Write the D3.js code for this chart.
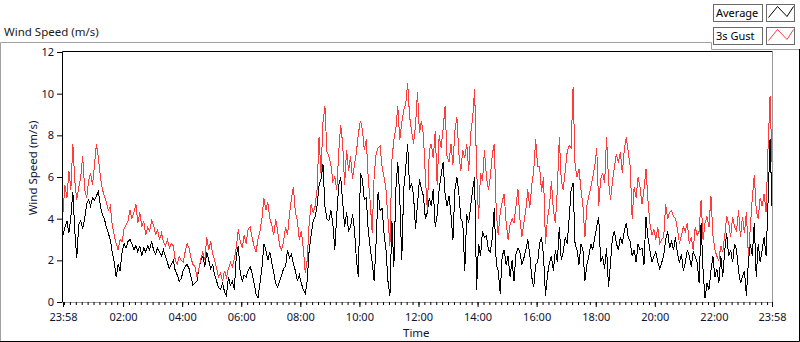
<!DOCTYPE html>
<html>
<head>
<meta charset="utf-8">
<script src="https://cdn.jsdelivr.net/npm/d3@7"></script>
<style>
  body { margin: 0; background: #fff; }
  svg { display: block; font-family: "Noto Sans", sans-serif; }
  .tick text { fill: #111133; }
</style>
</head>
<body>
<svg id="chart" width="800" height="342"></svg>
<script>
// samples every 4 minutes starting at 23:58 of the previous day
var startTime = "2000-01-01 23:58";
var stepMinutes = 4;

var avgSpeed = [
  3.2,3.6,3.9,3.3,4.1,5.3,3.4,2.1,3.7,3.9, 3.5,4.0,4.7,4.9,4.6,5.0,4.9,5.1,5.3,4.6,
  4.2,4.0,3.6,3.3,3.0,2.4,1.9,1.2,1.8,1.5, 2.4,2.8,2.6,2.9,3.0,2.8,2.5,2.7,2.4,2.7,
  2.2,2.6,2.4,2.7,2.5,2.9,2.5,2.3,2.6,2.4, 2.2,2.5,2.2,1.9,1.6,1.8,2.0,1.5,1.3,1.0,
  1.1,1.5,1.7,1.8,1.6,1.2,0.8,0.9,1.0,1.6, 2.0,2.2,1.7,
  2.4,2.0,1.6,1.8,1.3,1.0,0.7,0.6,0.9,0.5, 0.3,1.2,0.8,1.0,0.6,2.2,2.7,1.4,1.0,1.3,
  1.2,1.5,1.7,1.4,0.9,0.4,0.2,0.9,1.6,2.8, 2.5,2.0,2.4,1.9,1.4,0.9,0.7,1.0,1.3,1.6,
  1.7,2.5,2.1,2.3,1.8,1.5,1.0,1.3,0.9,0.6, 0.4,1.0,2.5,3.2,3.9,4.1,4.6,5.6,5.9,6.6,
  4.6,4.0,3.9,4.4,3.8,2.5,4.2,5.6,6.0,4.8, 3.6,4.3,3.4,
  3.6,4.2,3.5,2.0,1.2,6.2,5.9,4.9,5.0,3.4, 2.6,1.9,1.0,2.9,5.3,4.4,4.5,3.3,2.5,1.0,
  0.3,3.9,1.7,5.4,6.7,5.0,2.0,5.4,6.4,7.6, 5.4,5.7,5.1,3.5,4.7,5.9,5.4,5.1,4.0,4.3,
  5.0,4.6,5.4,3.6,4.2,5.4,6.1,6.7,5.2,4.6, 5.1,4.2,3.0,5.4,6.0,5.2,4.0,3.8,1.5,4.2,
  3.8,4.6,5.4,6.0,0.6,2.8,2.2,3.4,3.1,3.2, 2.5,2.4,
  3.1,4.5,1.8,1.5,0.4,2.2,2.5,1.8,2.2,1.2, 2.0,1.0,2.3,2.6,2.4,1.8,2.1,2.5,3.0,2.3,
  1.2,0.7,1.8,1.9,2.8,3.1,2.2,0.3,1.3,1.9, 2.2,1.5,2.5,1.9,3.6,2.0,2.4,3.1,2.8,4.0,
  5.4,5.7,2.8,2.5,1.8,2.8,2.5,1.0,1.8,2.2, 2.8,2.5,3.1,3.6,4.1,1.9,2.2,1.6,2.6,0.7,
  1.9,3.1,3.4,2.8,2.5,3.1,2.8,3.4,3.8,3.1, 2.9,2.2,
  2.5,1.9,2.8,2.5,2.6,1.8,4.1,3.1,2.5,1.9, 2.2,2.4,1.9,1.6,1.9,2.2,3.0,3.4,2.6,2.9,
  2.5,3.1,2.3,1.9,2.3,1.5,1.9,2.5,2.2,1.7, 2.4,2.2,1.9,0.9,3.8,1.5,0.2,0.9,0.6,1.5,
  2.2,1.2,1.6,0.9,2.2,1.2,2.5,3.3,2.2,2.5, 1.9,2.8,2.5,1.5,0.9,1.2,1.5,0.3,1.9,2.8,
  2.2,3.8,1.2,2.8,1.9,2.5,3.1,2.2,4.8,7.8,4.6
];

var gustSpeed = [
  4.3,5.6,5.0,6.3,5.4,7.6,5.8,4.9,5.5,6.0, 7.0,5.4,5.0,5.8,6.2,5.6,6.6,7.6,6.9,6.0,
  5.4,5.1,4.8,4.4,4.6,3.7,3.2,2.8,2.5,3.0, 2.9,3.5,3.7,3.9,4.4,4.0,4.3,4.7,3.8,4.3,
  3.6,3.9,3.2,3.6,3.4,3.9,3.7,3.2,3.5,3.0, 3.3,2.9,2.7,3.0,2.6,2.8,2.7,2.0,1.8,2.2,
  2.0,1.9,2.4,2.8,2.6,2.1,1.8,1.7,1.2,1.6, 2.1,2.4,2.0,
  3.1,2.5,2.9,2.3,2.0,1.6,1.2,1.4,1.0,1.5, 1.2,1.6,1.9,1.7,2.1,2.6,3.5,2.9,2.6,3.2,
  2.8,3.5,3.6,3.1,2.7,2.4,3.0,3.4,4.0,5.0, 4.4,4.8,4.0,3.7,3.2,4.0,3.4,2.7,2.5,2.9,
  3.6,3.2,4.2,5.0,5.5,4.3,3.9,3.0,3.4,2.6, 1.4,2.0,3.8,4.7,4.3,4.6,5.4,7.9,6.2,8.6,
  9.4,7.2,7.0,6.6,5.8,6.0,5.4,7.2,8.5,7.6, 5.6,7.3,6.3,
  7.0,5.9,6.6,7.2,8.1,8.7,8.3,7.3,7.8,5.9, 4.8,3.3,6.1,7.1,7.4,7.5,6.5,6.0,5.4,4.0,
  2.7,6.8,7.8,8.3,9.4,7.8,8.6,9.2,9.5,10.5, 8.9,8.2,7.6,8.5,10.1,8.1,8.7,8.0,6.0,4.4,
  7.3,7.6,6.9,8.2,5.6,8.0,7.4,8.3,9.4,7.0, 6.7,7.6,6.6,8.2,8.9,7.1,6.3,7.3,6.9,7.6,
  6.3,8.1,8.8,10.2,6.4,4.0,6.2,5.8,7.3,6.0, 5.4,6.0,
  7.1,7.6,4.3,3.2,4.3,4.8,5.2,3.8,3.0,3.7, 4.0,3.8,4.6,5.4,4.0,3.1,3.8,4.4,5.4,4.5,
  5.6,6.3,7.8,6.5,6.5,5.3,6.0,2.8,4.0,4.6, 5.8,4.4,3.8,5.4,7.9,5.8,5.4,6.3,7.2,7.5,
  7.4,10.3,6.6,6.0,6.4,5.4,4.6,3.1,4.6,5.1, 5.5,6.0,6.5,7.4,4.6,5.9,6.2,5.7,7.9,5.8,
  4.9,5.8,6.5,7.1,6.7,7.2,6.2,7.3,7.9,7.2, 6.5,4.0,
  5.5,5.0,6.0,5.5,4.7,5.4,6.4,4.9,3.8,3.2, 3.5,3.0,3.6,2.8,3.0,3.1,4.7,4.0,4.3,4.4,
  4.1,4.0,3.5,2.8,3.2,3.6,3.4,3.8,2.8,3.1, 2.5,3.6,3.2,3.4,4.9,3.0,3.8,4.1,3.6,5.1,
  3.2,2.5,2.2,2.0,2.7,2.4,3.2,4.1,3.8,3.1, 4.1,3.6,3.4,4.4,3.1,4.1,3.3,4.3,2.2,3.6,
  5.0,6.1,4.4,4.0,5.0,4.6,5.2,4.3,7.4,9.9,6.7
];

var yTicks = [0, 2, 4, 6, 8, 10, 12];
var xTickLabels = ["23:58", "02:00", "04:00", "06:00", "08:00", "10:00", "12:00",
                   "14:00", "16:00", "18:00", "20:00", "22:00", "23:58"];
var seriesNames = ["Average", "3s Gust"];
var seriesColors = ["#000000", "#ff3c3c"];

var svg = d3.select("#chart");
var parse = d3.timeParse("%Y-%m-%d %H:%M");
var t0 = parse(startTime);
var t1 = d3.timeMinute.offset(t0, 1440);

var x = d3.scaleTime().domain([t0, t1]).range([63, 772]);
var y = d3.scaleLinear().domain([0, 12]).range([302, 52]);

var tickDates = xTickLabels.map(function(s, i) {
  if (i == 0) return t0;
  if (i == xTickLabels.length - 1) return t1;
  return parse("2000-01-02 " + s);
});

// outer frame
svg.append("path").attr("d", "M0.5,341V42.5H711.5V49.5H800")
  .attr("fill", "none").attr("stroke", "#a0a0a0");
svg.append("path").attr("d", "M0,341.5H799.5V49")
  .attr("fill", "none").attr("stroke", "#000");

svg.append("text").attr("x", 4).attr("y", 36)
  .attr("font-size", "11.5px").attr("fill", "#1a1a1a")
  .text("Wind Speed (m/s)");

// plot area border
svg.append("path").attr("d", "M62.5,302V51.5H772.5")
  .attr("fill", "none").attr("stroke", "#000");
svg.append("path").attr("d", "M62,302.5H772.5V52")
  .attr("fill", "none").attr("stroke", "#9a9a9a");

svg.append("clipPath").attr("id", "clip")
  .append("rect").attr("x", 63).attr("y", 52).attr("width", 709).attr("height", 250);

var line = d3.line()
  .x(function(d, i) { return x(d3.timeMinute.offset(t0, i * stepMinutes)); })
  .y(function(d) { return y(d); });

svg.append("g").attr("clip-path", "url(#clip)")
  .selectAll("path")
  .data([avgSpeed, gustSpeed])
  .enter().append("path")
  .attr("d", line)
  .attr("fill", "none")
  .attr("stroke", function(d, i) { return seriesColors[i]; })
  .attr("stroke-width", 1)
  .attr("shape-rendering", "crispEdges");

// y axis
var yAxis = svg.append("g").attr("transform", "translate(62,0)")
  .call(d3.axisLeft(y).tickValues(yTicks).tickSize(5).tickPadding(3));
yAxis.select(".domain").remove();
yAxis.selectAll("text").attr("font-size", "11px").attr("font-family", "Noto Sans");

// x axis: minor ticks then labelled ticks
var xMinor = svg.append("g").attr("transform", "translate(0,302)")
  .call(d3.axisBottom(x).tickValues(d3.timeMinute.every(12).range(t0, t1)).tickSize(3).tickFormat(""));
xMinor.select(".domain").remove();

var xAxis = svg.append("g").attr("transform", "translate(0,302)")
  .call(d3.axisBottom(x).tickValues(tickDates).tickSize(5).tickPadding(6)
    .tickFormat(function(d, i) { return xTickLabels[i]; }));
xAxis.select(".domain").remove();
xAxis.selectAll("text").attr("font-size", "11px").attr("font-family", "Noto Sans");

svg.append("text").attr("x", 403).attr("y", 337)
  .attr("font-size", "11.5px").attr("fill", "#111133").text("Time");

svg.append("text")
  .attr("transform", "translate(37,168) rotate(-90)")
  .attr("text-anchor", "middle")
  .attr("font-size", "11.5px").attr("fill", "#111133")
  .text("Wind Speed (m/s)");

// legend
var leg = svg.selectAll(".leg").data(seriesNames).enter().append("g")
  .attr("class", "leg")
  .attr("transform", function(d, i) { return "translate(0," + (i * 23) + ")"; });
leg.append("rect").attr("x", 713.5).attr("y", 4.5).attr("width", 49).attr("height", 17)
  .attr("fill", "#fff").attr("stroke", "#6a6a6a");
leg.append("text").attr("x", 716).attr("y", 17).attr("font-size", "11px")
  .attr("fill", "#000").text(function(d) { return d; });
leg.append("rect").attr("x", 766.5).attr("y", 4.5).attr("width", 28).attr("height", 17)
  .attr("fill", "#fff").attr("stroke", "#6a6a6a");
leg.append("polyline")
  .attr("points", "768.5,17.5 777.5,6.5 787,16.5 793.5,6.5")
  .attr("fill", "none")
  .attr("stroke", function(d, i) { return seriesColors[i]; });
</script>
</body>
</html>
